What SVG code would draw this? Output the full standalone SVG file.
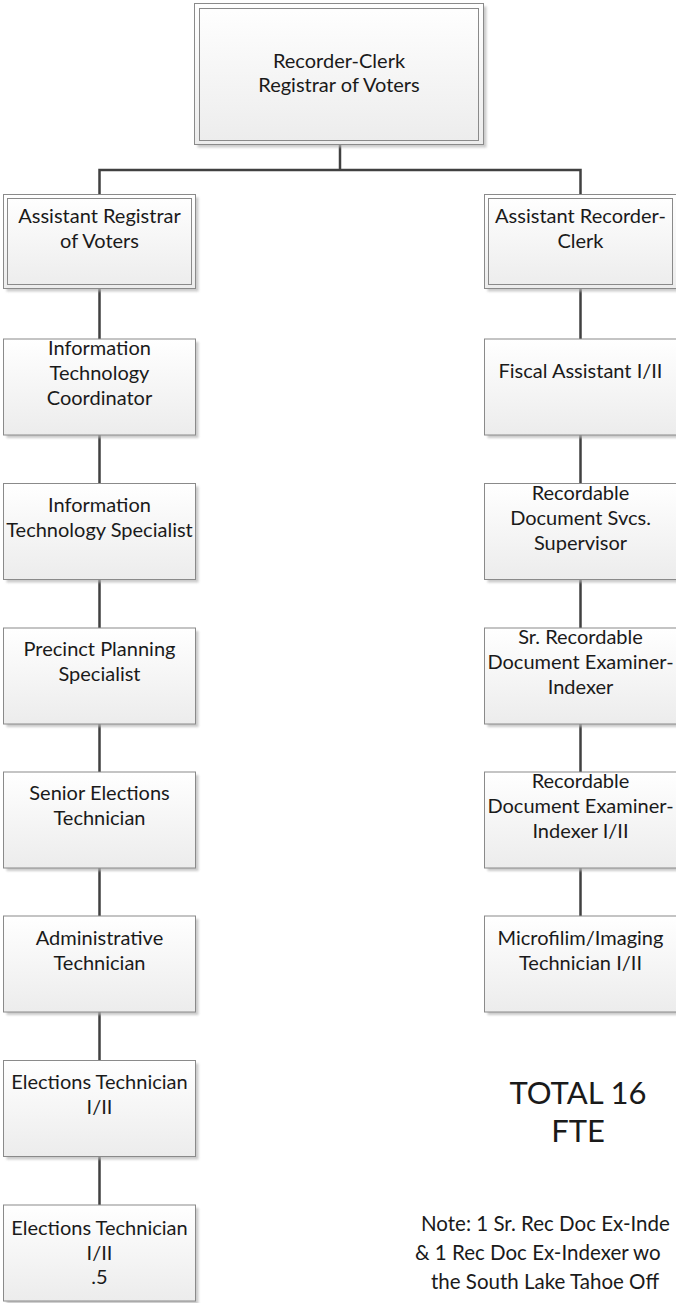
<svg xmlns="http://www.w3.org/2000/svg" width="676" height="1303" viewBox="0 0 676 1303">
<defs>
<linearGradient id="g" x1="0" y1="0" x2="0" y2="1">
<stop offset="0" stop-color="#ffffff"/>
<stop offset="1" stop-color="#ececec"/>
</linearGradient>
<filter id="sh" x="-10%" y="-10%" width="130%" height="130%">
<feGaussianBlur stdDeviation="1.2"/>
</filter>
</defs>
<style>
.bx{fill:url(#g);stroke:#8a8a8a;stroke-width:1}
.in{fill:none;stroke:#8a8a8a;stroke-width:1}
.sd{fill:#b5b5b5;opacity:0.7;filter:url(#sh)}
.t{font-family:Lato,"Liberation Sans",sans-serif;font-size:20px;fill:#1a1a1a;text-anchor:middle}
.big{font-family:Lato,"Liberation Sans",sans-serif;font-size:31px;fill:#1a1a1a;text-anchor:middle}
.nt{font-family:Lato,"Liberation Sans",sans-serif;font-size:20.5px;fill:#1a1a1a}
.c{fill:none;stroke:#404040;stroke-width:2.5}
</style>
<rect width="676" height="1303" fill="#ffffff"/>
<g id="connectors">
<path class="c" d="M340 145 V170"/>
<path class="c" d="M99.5 194.5 V170 H580.5 V194.5"/>
<path class="c" d="M99.5 288.5 V339 M99.5 435 V483.5 M99.5 579.5 V628 M99.5 724 V772 M99.5 868 V916 M99.5 1012 V1060.5 M99.5 1156.5 V1205"/>
<path class="c" d="M580.5 288.5 V339 M580.5 435 V483.5 M580.5 579.5 V628 M580.5 724 V772 M580.5 868 V916"/>
</g>
<g id="recorder-clerk">
<rect class="sd" x="197.5" y="6.5" width="289" height="141"/>
<rect class="bx" x="194.5" y="3.5" width="289" height="141"/>
<rect class="in" x="199.5" y="8.5" width="279" height="132"/>
<text class="t" x="339" y="68">Recorder-Clerk</text>
<text class="t" x="339" y="92">Registrar of Voters</text>
</g>
<g id="asst-registrar">
<rect class="sd" x="6.5" y="197.5" width="192" height="94"/>
<rect class="bx" x="3.5" y="194.5" width="192" height="94"/>
<rect class="in" x="7.5" y="198.5" width="184" height="86"/>
<text class="t" x="99.5" y="223">Assistant Registrar</text>
<text class="t" x="99.5" y="248">of Voters</text>
</g>
<g id="asst-recorder">
<rect class="sd" x="487.5" y="197.5" width="192" height="94"/>
<rect class="bx" x="484.5" y="194.5" width="192" height="94"/>
<rect class="in" x="488.5" y="198.5" width="184" height="86"/>
<text class="t" x="580.5" y="223">Assistant Recorder-</text>
<text class="t" x="580.5" y="248">Clerk</text>
</g>
<g id="it-coordinator">
<rect class="sd" x="6.5" y="342" width="192" height="96"/>
<rect class="bx" x="3.5" y="339" width="192" height="96"/>
<text class="t" x="99.5" y="355">Information</text>
<text class="t" x="99.5" y="380">Technology</text>
<text class="t" x="99.5" y="405">Coordinator</text>
</g>
<g id="it-specialist">
<rect class="sd" x="6.5" y="486.5" width="192" height="96"/>
<rect class="bx" x="3.5" y="483.5" width="192" height="96"/>
<text class="t" x="99.5" y="512">Information</text>
<text class="t" x="99.5" y="537">Technology Specialist</text>
</g>
<g id="precinct-planning">
<rect class="sd" x="6.5" y="631" width="192" height="96"/>
<rect class="bx" x="3.5" y="628" width="192" height="96"/>
<text class="t" x="99.5" y="656">Precinct Planning</text>
<text class="t" x="99.5" y="681">Specialist</text>
</g>
<g id="senior-elections">
<rect class="sd" x="6.5" y="775" width="192" height="96"/>
<rect class="bx" x="3.5" y="772" width="192" height="96"/>
<text class="t" x="99.5" y="800">Senior Elections</text>
<text class="t" x="99.5" y="825">Technician</text>
</g>
<g id="admin-tech">
<rect class="sd" x="6.5" y="919" width="192" height="96"/>
<rect class="bx" x="3.5" y="916" width="192" height="96"/>
<text class="t" x="99.5" y="945">Administrative</text>
<text class="t" x="99.5" y="970">Technician</text>
</g>
<g id="elections-tech">
<rect class="sd" x="6.5" y="1063.5" width="192" height="96"/>
<rect class="bx" x="3.5" y="1060.5" width="192" height="96"/>
<text class="t" x="99.5" y="1089">Elections Technician</text>
<text class="t" x="99.5" y="1114">I/II</text>
</g>
<g id="elections-tech-half">
<rect class="sd" x="6.5" y="1208" width="192" height="96"/>
<rect class="bx" x="3.5" y="1205" width="192" height="96"/>
<text class="t" x="99.5" y="1235">Elections Technician</text>
<text class="t" x="99.5" y="1260">I/II</text>
<text class="t" x="99.5" y="1284">.5</text>
</g>
<g id="fiscal-assistant">
<rect class="sd" x="487.5" y="342" width="192" height="96"/>
<rect class="bx" x="484.5" y="339" width="192" height="96"/>
<text class="t" x="580.5" y="378">Fiscal Assistant I/II</text>
</g>
<g id="rds-supervisor">
<rect class="sd" x="487.5" y="486.5" width="192" height="96"/>
<rect class="bx" x="484.5" y="483.5" width="192" height="96"/>
<text class="t" x="580.5" y="500">Recordable</text>
<text class="t" x="580.5" y="525">Document Svcs.</text>
<text class="t" x="580.5" y="550">Supervisor</text>
</g>
<g id="sr-examiner">
<rect class="sd" x="487.5" y="631" width="192" height="96"/>
<rect class="bx" x="484.5" y="628" width="192" height="96"/>
<text class="t" x="580.5" y="644">Sr. Recordable</text>
<text class="t" x="580.5" y="669">Document Examiner-</text>
<text class="t" x="580.5" y="694">Indexer</text>
</g>
<g id="examiner">
<rect class="sd" x="487.5" y="775" width="192" height="96"/>
<rect class="bx" x="484.5" y="772" width="192" height="96"/>
<text class="t" x="580.5" y="788">Recordable</text>
<text class="t" x="580.5" y="813">Document Examiner-</text>
<text class="t" x="580.5" y="838">Indexer I/II</text>
</g>
<g id="microfilm">
<rect class="sd" x="487.5" y="919" width="192" height="96"/>
<rect class="bx" x="484.5" y="916" width="192" height="96"/>
<text class="t" x="580.5" y="945">Microfilim/Imaging</text>
<text class="t" x="580.5" y="970">Technician I/II</text>
</g>
<g id="total">
<text class="big" x="578" y="1104">TOTAL 16</text>
<text class="big" x="578" y="1142">FTE</text>
</g>
<g id="note">
<text class="nt" x="421" y="1231">Note: 1 Sr. Rec Doc Ex-Inde</text>
<text class="nt" x="415" y="1260">&amp; 1 Rec Doc Ex-Indexer wo</text>
<text class="nt" x="431" y="1289">the South Lake Tahoe Off</text>
</g>
</svg>
